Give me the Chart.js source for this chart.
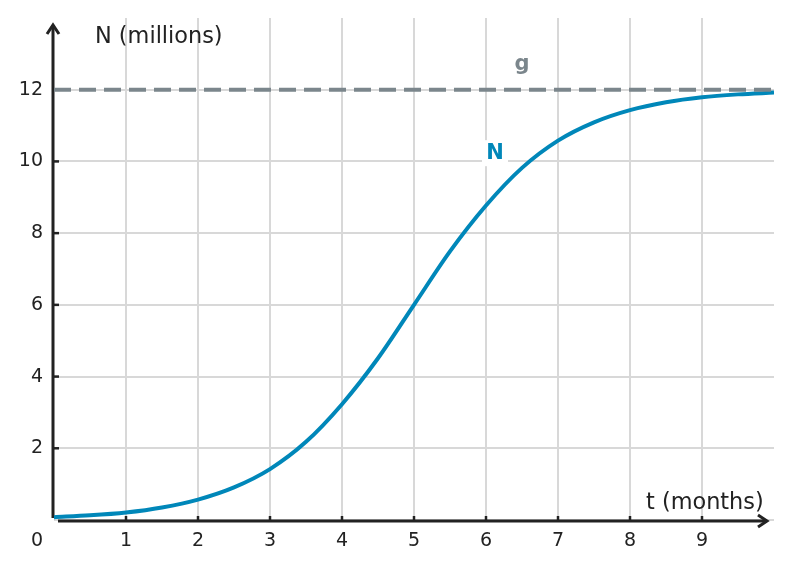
<!DOCTYPE html>
<html>
<head>
<meta charset="utf-8">
<script src="https://cdn.jsdelivr.net/npm/chart.js@4"></script>
<style>
  body { margin: 0; background: #fff; }
  #wrap { width: 792px; height: 570px; }
</style>
</head>
<body>
<div id="wrap"><canvas id="chart" width="792" height="570"></canvas></div>
<script>
// values
const tValues = [0, 0.5, 1, 1.5, 2, 2.5, 3, 3.5, 4, 4.5, 5, 5.5, 6, 6.5, 7, 7.5, 8, 8.5, 9, 9.5, 10];
const nValues = [0.08, 0.13, 0.21, 0.35, 0.57, 0.91, 1.42, 2.18, 3.23, 4.51, 6.0, 7.49, 8.77, 9.82, 10.58, 11.09, 11.43, 11.65, 11.79, 11.87, 11.92];
const gT = [0, 10];
const gValues = [12, 12];

const xTicks = [1, 2, 3, 4, 5, 6, 7, 8, 9];
const yTicks = [2, 4, 6, 8, 10, 12];
const originLabel = "0";
const xTitle = "t (months)";
const yTitle = "N (millions)";

const BLUE = "#0087b9";
const GREY = "#7b868c";
const INK = "#222222";
const FONT = "'DejaVu Sans', sans-serif";

// axes with arrows, ticks and labels, drawn from the chart's own scales
const axesPlugin = {
  id: "axes",
  beforeDatasetsDraw(chart) {
    const { ctx, scales: { x, y } } = chart;
    const x0 = x.getPixelForValue(0) - 1;
    const y0 = y.getPixelForValue(0) + 1;
    ctx.save();
    ctx.strokeStyle = INK;
    ctx.lineWidth = 3;
    ctx.lineCap = "butt";

    // y axis
    ctx.beginPath();
    ctx.moveTo(x0, y0 - 3);
    ctx.lineTo(x0, 25);
    ctx.stroke();
    ctx.beginPath();
    ctx.moveTo(x0 - 6, 34);
    ctx.lineTo(x0, 25);
    ctx.lineTo(x0 + 6, 34);
    ctx.stroke();

    // x axis
    ctx.beginPath();
    ctx.moveTo(x0 + 5, y0);
    ctx.lineTo(767, y0);
    ctx.stroke();
    ctx.beginPath();
    ctx.moveTo(758, y0 - 6);
    ctx.lineTo(767, y0);
    ctx.lineTo(758, y0 + 6);
    ctx.stroke();

    // ticks
    ctx.lineWidth = 2.5;
    xTicks.forEach(v => {
      const px = x.getPixelForValue(v);
      ctx.beginPath();
      ctx.moveTo(px, y0);
      ctx.lineTo(px, y0 - 5);
      ctx.stroke();
    });
    yTicks.forEach(v => {
      const py = y.getPixelForValue(v);
      ctx.beginPath();
      ctx.moveTo(x0, py);
      ctx.lineTo(x0 + 6, py);
      ctx.stroke();
    });

    // tick labels
    ctx.fillStyle = INK;
    ctx.font = "19px " + FONT;
    ctx.textBaseline = "middle";
    ctx.textAlign = "center";
    xTicks.forEach(v => ctx.fillText(String(v), x.getPixelForValue(v), 541));
    ctx.textAlign = "right";
    yTicks.forEach(v => ctx.fillText(String(v), 43, y.getPixelForValue(v)));
    ctx.fillText(originLabel, 43, 541);

    // axis titles
    ctx.font = "22.4px " + FONT;
    ctx.textBaseline = "alphabetic";
    ctx.textAlign = "left";
    ctx.fillText(yTitle, 95, 43);
    ctx.fillText(xTitle, 646, 509);
    ctx.restore();
  },
  afterDatasetsDraw(chart) {
    const { ctx, scales: { x, y } } = chart;
    ctx.save();
    ctx.font = "bold 21px " + FONT;
    ctx.textAlign = "center";
    ctx.textBaseline = "middle";
    // series labels
    const nx = x.getPixelForValue(6.125), ny = y.getPixelForValue(10.23);
    ctx.fillStyle = "#fff";
    ctx.fillRect(nx - 13, ny - 13, 26, 26);
    ctx.fillStyle = BLUE;
    ctx.fillText("N", nx, ny);
    ctx.fillStyle = GREY;
    ctx.fillText("g", x.getPixelForValue(6.5), y.getPixelForValue(12.7));
    ctx.restore();
  }
};

new Chart(document.getElementById("chart"), {
  type: "line",
  data: {
    datasets: [
      {
        label: "g",
        data: gT.map((t, i) => ({ x: t, y: gValues[i] })),
        borderColor: GREY,
        borderWidth: 4,
        borderDash: [17, 8],
        pointRadius: 0,
        fill: false
      },
      {
        label: "N",
        data: tValues.map((t, i) => ({ x: t, y: nValues[i] })),
        borderColor: BLUE,
        borderWidth: 4,
        cubicInterpolationMode: "monotone",
        pointRadius: 0,
        fill: false
      }
    ]
  },
  options: {
    responsive: false,
    animation: false,
    layout: { padding: { left: 54, right: 18, top: 18, bottom: 50 } },
    plugins: { legend: { display: false }, tooltip: { enabled: false } },
    scales: {
      x: {
        type: "linear",
        min: 0,
        max: 10,
        border: { display: false },
        ticks: { display: false, stepSize: 1 },
        grid: {
          drawTicks: false,
          lineWidth: 2,
          color: c => (c.tick.value > 0 && c.tick.value < 10 ? "#d8d8d8" : "rgba(0,0,0,0)")
        }
      },
      y: {
        min: 0,
        max: 14,
        border: { display: false },
        ticks: { display: false, stepSize: 2 },
        grid: {
          drawTicks: false,
          lineWidth: 2,
          color: c => (c.tick.value < 14 ? "#d8d8d8" : "rgba(0,0,0,0)")
        }
      }
    }
  },
  plugins: [axesPlugin]
});
</script>
</body>
</html>
